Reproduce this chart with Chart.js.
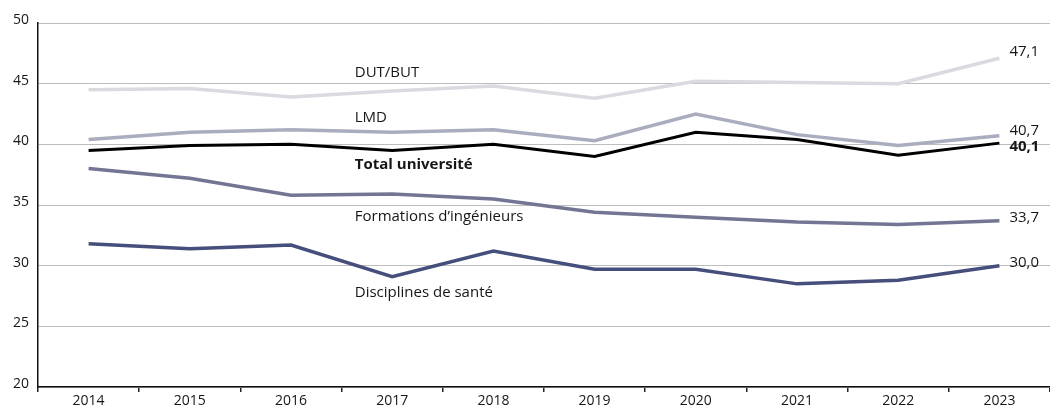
<!DOCTYPE html>
<html>
<head>
<meta charset="utf-8">
<script src="https://cdn.jsdelivr.net/npm/chart.js@4/dist/chart.umd.min.js"></script>
<style>
html,body{margin:0;padding:0;background:#fff;}
#wrap{width:1050px;height:408px;position:relative;}
</style>
</head>
<body>
<div id="wrap"><canvas id="c" width="1050" height="408"></canvas></div>
<script>
const years = ['2014','2015','2016','2017','2018','2019','2020','2021','2022','2023'];
const dutBut = [44.5, 44.6, 43.9, 44.4, 44.8, 43.8, 45.2, 45.1, 45.0, 47.1];
const lmd = [40.4, 41.0, 41.2, 41.0, 41.2, 40.3, 42.5, 40.8, 39.9, 40.7];
const totalUniv = [39.5, 39.9, 40.0, 39.5, 40.0, 39.0, 41.0, 40.4, 39.1, 40.1];
const ingenieurs = [38.0, 37.2, 35.8, 35.9, 35.5, 34.4, 34.0, 33.6, 33.4, 33.7];
const sante = [31.8, 31.4, 31.7, 29.1, 31.2, 29.7, 29.7, 28.5, 28.8, 30.0];
const yTicks = [20, 25, 30, 35, 40, 45, 50];

const seriesNames = ['DUT/BUT', 'LMD', 'Total université', 'Formations d\u2019ingénieurs', 'Disciplines de santé'];
const seriesColors = ['#d9dbe1', '#a9adbe', '#000000', '#727693', '#464e7c'];
const seriesWidths = [3.5, 3.5, 3, 3.5, 3.5];
const seriesData = [dutBut, lmd, totalUniv, ingenieurs, sante];
const seriesBold = [false, false, true, false, false];
// inline label anchor (category position, value) and end-label vertical offsets
const labelAnchors = [[2.63, 45.9], [2.63, 42.2], [2.63, 38.35], [2.63, 34.05], [2.63, 27.8]];
const endOffsets = [-6, -5, 4, -3, -3];

const FONT = '"Open Sans", sans-serif';

const labelPlugin = {
  id: 'labels',
  afterDatasetsDraw(chart) {
    const ctx = chart.ctx;
    const xs = chart.scales.x, ys = chart.scales.y;
    ctx.save();
    ctx.textBaseline = 'middle';
    ctx.fillStyle = '#161616';
    // y tick labels, sitting slightly above their gridlines
    ctx.font = '14px ' + FONT;
    ctx.textAlign = 'right';
    yTicks.forEach(v => ctx.fillText(String(v), 29, ys.getPixelForValue(v) - 3));
    seriesNames.forEach((name, i) => {
      ctx.font = (seriesBold[i] ? 'bold ' : '') + '15px ' + FONT;
      ctx.textAlign = 'left';
      const a = labelAnchors[i];
      ctx.fillText(name, xs.getPixelForValue(a[0]), ys.getPixelForValue(a[1]));
      const d = seriesData[i];
      const last = d.length - 1;
      const px = xs.getPixelForValue(last) + 10;
      const py = ys.getPixelForValue(d[last]) + endOffsets[i];
      ctx.fillText(d[last].toFixed(1).replace('.', ','), px, py);
    });
    ctx.restore();
  }
};

new Chart(document.getElementById('c'), {
  type: 'line',
  data: {
    labels: years,
    datasets: seriesData.map((d, i) => ({
      label: seriesNames[i],
      data: d,
      borderColor: seriesColors[i],
      borderWidth: seriesWidths[i],
      pointRadius: 0,
      tension: 0,
      fill: false,
      order: i === 2 ? 0 : 1
    }))
  },
  options: {
    responsive: false,
    animation: false,
    layout: { padding: { top: 23, right: 0, left: 0, bottom: 0 } },
    plugins: { legend: { display: false }, tooltip: { enabled: false } },
    scales: {
      x: {
        offset: true,
        grid: { offset: true, drawOnChartArea: false, drawTicks: true, tickLength: 5, color: '#222', lineWidth: 1.5 },
        border: { display: true, color: '#111', width: 1.5 },
        ticks: { color: '#161616', font: { family: FONT, size: 14 }, padding: 1, maxRotation: 0 },
        afterFit(s) { s.height = 21; }
      },
      y: {
        min: 20, max: 50,
        afterBuildTicks(s) { s.ticks = yTicks.map(v => ({ value: v })); },
        grid: { color: '#bdbdbd', lineWidth: 1, drawTicks: false },
        border: { display: true, color: '#111', width: 1.5 },
        ticks: { display: false },
        afterFit(s) { s.width = 38; }
      }
    }
  },
  plugins: [labelPlugin]
});
</script>
</body>
</html>
